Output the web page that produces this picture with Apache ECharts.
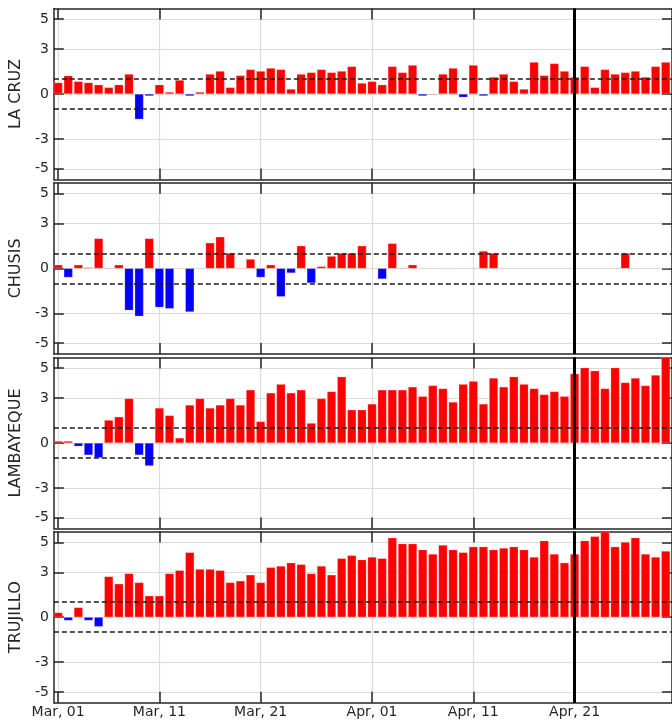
<!DOCTYPE html>
<html>
<head>
<meta charset="utf-8">
<script src="https://cdn.jsdelivr.net/npm/echarts@6/dist/echarts.min.js"></script>
<style>
html,body{margin:0;padding:0;background:#fff;}
#chart{width:672px;height:721px;}
</style>
</head>
<body>
<div id="chart"></div>
<script>
// Day index 0 = Mar 01 ... 60 = Apr 30
const stations = ['LA CRUZ', 'CHUSIS', 'LAMBAYEQUE', 'TRUJILLO'];

const laCruz = [0.76,1.22,0.84,0.76,0.62,0.44,0.62,1.33,-1.69,-0.13,
  0.62,0.13,0.93,-0.13,0.13,1.33,1.53,0.44,1.24,1.64,
  1.53,1.73,1.64,0.33,1.33,1.44,1.64,1.44,1.53,1.84,
  0.73,0.84,0.62,1.84,1.44,1.93,-0.13,-0.05,1.33,1.73,
  -0.22,1.93,-0.13,1.13,1.33,0.84,0.33,2.13,1.24,2.04,
  1.53,1.13,1.84,0.44,1.64,1.33,1.44,1.53,1.13,1.84,2.13];

const chusis = [0.24,-0.6,0.24,0.06,2.0,0.04,0.24,-2.8,-3.2,2.0,
  -2.6,-2.69,0,-2.91,0,1.71,2.11,1.02,0,0.62,
  -0.6,0.24,-1.89,-0.31,1.51,-0.98,0.13,0.82,1.02,1.02,
  1.51,0,-0.71,1.67,0.04,0.24,0,0,0,0,
  0,0,1.16,1.02,0,0,0,0,0,0,
  0,0,0,0,0,0,1.02,0,0,0,0];

const lambayeque = [0.13,0.13,-0.22,-0.81,-0.99,1.53,1.75,2.97,-0.81,-1.53,
  2.34,1.84,0.34,2.54,2.97,2.34,2.54,2.97,2.54,3.55,
  1.44,3.35,3.93,3.35,3.55,1.33,2.97,3.44,4.43,2.22,
  2.22,2.61,3.55,3.55,3.55,3.75,3.12,3.84,3.64,2.74,
  3.93,4.13,2.61,4.34,3.75,4.43,3.93,3.64,3.24,3.44,
  3.12,4.63,5.03,4.83,3.64,5.03,4.04,4.34,3.84,4.54,5.9];

const trujillo = [0.31,-0.22,0.65,-0.22,-0.63,2.72,2.23,2.92,2.32,1.43,
  1.43,2.92,3.13,4.33,3.21,3.21,3.13,2.32,2.43,2.83,
  2.32,3.33,3.42,3.64,3.53,2.92,3.42,2.83,3.93,4.13,
  3.84,4.02,3.93,5.31,4.91,4.91,4.51,4.22,4.82,4.51,
  4.33,4.71,4.71,4.51,4.62,4.71,4.51,4.02,5.11,4.22,
  3.64,4.22,5.11,5.40,5.71,4.71,5.02,5.31,4.22,4.02,4.42];

const xTickDays = [0, 10, 20, 31, 41, 51];
const xTickLabels = ['Mar, 01', 'Mar, 11', 'Mar, 21', 'Apr, 01', 'Apr, 11', 'Apr, 21'];
const yTicks = [-5, -3, 0, 3, 5];
const thresholds = [1, -1];
const markerDay = 51;

const allSeries = [laCruz, chusis, lambayeque, trujillo];

const FONT = 'DejaVu Sans';
const INK = '#262626';
const tops = [8.4, 182.8, 357.4, 531.6];
const H = 171.2;

const grids = [], xAxes = [], yAxes = [], series = [];
stations.forEach((name, k) => {
  grids.push({left: 52, right: -2, top: tops[k], height: H, containLabel: false});
  const baseX = {
    gridIndex: k, type: 'value', min: -0.42, max: 60.62,
    axisLine: {show: true, onZero: false, lineStyle: {color: INK, width: 1.5}},
    axisTick: {show: true, inside: true, length: 11, customValues: xTickDays, lineStyle: {color: INK, width: 1.5}},
  };
  xAxes.push(Object.assign({}, baseX, {
    position: 'bottom',
    axisLabel: {show: k === 3, customValues: xTickDays, margin: 3, fontSize: 14, fontFamily: FONT, color: INK,
      formatter: v => xTickLabels[xTickDays.indexOf(Math.round(v))] || ''},
    splitLine: {show: true, lineStyle: {color: '#dcdcdc', width: 1.2}}
  }));
  xAxes.push(Object.assign({}, baseX, {
    position: 'top',
    axisLabel: {show: false},
    splitLine: {show: false}
  }));
  const baseY = {
    gridIndex: k, type: 'value', min: -5.72, max: 5.72,
    axisLine: {show: true, onZero: false, lineStyle: {color: INK, width: 1.5}},
    axisTick: {show: true, inside: true, length: 10, customValues: yTicks, lineStyle: {color: INK, width: 1.5}},
  };
  yAxes.push(Object.assign({}, baseY, {
    position: 'left',
    name: name, nameLocation: 'middle', nameGap: 27, nameRotate: 90,
    nameTextStyle: {fontSize: 16, fontFamily: FONT, color: INK},
    axisLabel: {show: true, customValues: yTicks, margin: 5, fontSize: 14, fontFamily: FONT, color: INK},
    splitLine: {show: true, lineStyle: {color: '#dcdcdc', width: 1.2}}
  }));
  yAxes.push(Object.assign({}, baseY, {
    position: 'right',
    axisLabel: {show: false},
    splitLine: {show: false}
  }));
  series.push({
    type: 'bar',
    xAxisIndex: 2 * k, yAxisIndex: 2 * k,
    barWidth: 8.8,
    clip: true,
    data: allSeries[k].map((v, i) => [i, v]),
    itemStyle: {
      color: p => (p.value[1] < -0.08 ? '#0000ff' : '#ff0000'),
      borderColor: 'rgba(255,200,200,0.5)', borderWidth: 0.5
    },
    markLine: {
      silent: true, symbol: ['none', 'none'], label: {show: false}, animation: false,
      data: [
        {yAxis: thresholds[0], lineStyle: {type: [5, 3], color: '#1a1a1a', width: 1.5}},
        {yAxis: thresholds[1], lineStyle: {type: [5, 3], color: '#1a1a1a', width: 1.5}},
        {xAxis: markerDay, lineStyle: {type: 'solid', color: '#000', width: 3}}
      ]
    }
  });
});

const chart = echarts.init(document.getElementById('chart'), null, {renderer: 'canvas'});
chart.setOption({
  animation: false,
  backgroundColor: '#fff',
  grid: grids, xAxis: xAxes, yAxis: yAxes, series: series
});
</script>
</body>
</html>
